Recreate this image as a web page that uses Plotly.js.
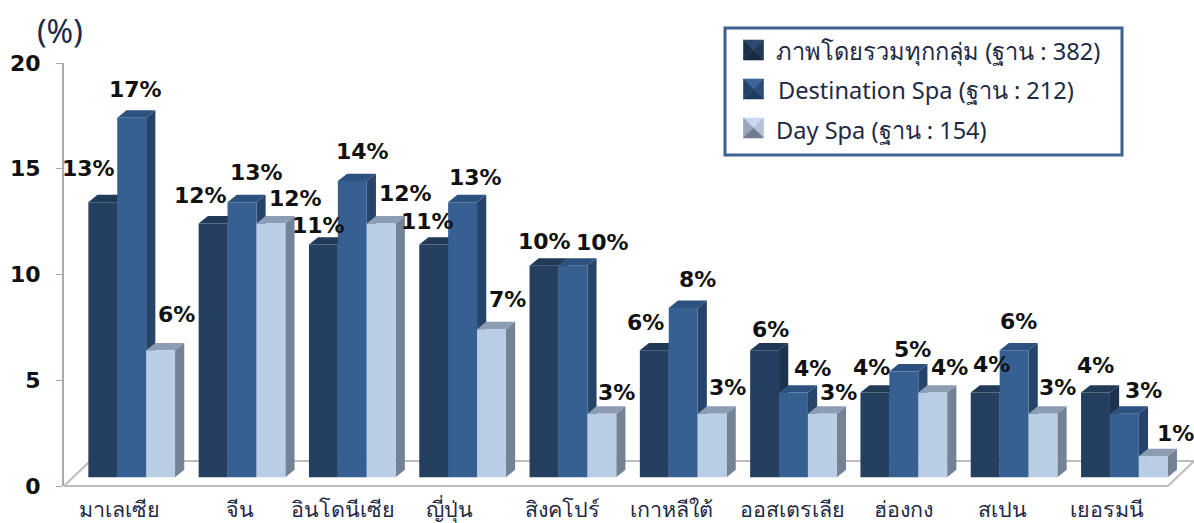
<!DOCTYPE html>
<html><head><meta charset="utf-8">
<script src="https://cdn.plot.ly/plotly-3.0.1.min.js"></script>
<style>html,body{margin:0;padding:0;background:#fff}#c{width:1194px;height:523px}</style>
</head><body><div id="c"></div>
<script>
const categories = ['มาเลเซีย','จีน','อินโดนีเซีย','ญี่ปุ่น','สิงคโปร์','เกาหลีใต้','ออสเตรเลีย','ฮ่องกง','สเปน','เยอรมนี'];
const seriesNames = ['ภาพโดยรวมทุกกลุ่ม (ฐาน : 382)','Destination Spa (ฐาน : 212)','Day Spa (ฐาน : 154)'];
const overall     = [13,12,11,11,10,6,6,4,4,4];
const destination = [17,13,14,13,10,8,4,5,6,3];
const daySpa      = [6,12,12,7,3,3,3,4,3,1];
const yTicks = [0,5,10,15,20];

// ---- styling and placement ----
const series = [overall,destination,daySpa];
const W=1194,H=523,mL=64,mR=0,mT=63,mB=36.5;
const plotW=W-mL-mR, plotH=H-mT-mB;
const period=110.3, center0=131.7;           // px between groups, px of first group centre
const xRange=[(mL-center0)/period,(W-mR-center0)/period];
const pxPerUnit=plotH/20, baseGap=8.8;       // bars stand on the floor, above the axis zero
const y1Range=[-baseGap/pxPerUnit,20-baseGap/pxPerUnit];
const gap=0.214, barW=(1-gap)/3;
const depthX=9.2/period, depthY=7.4/pxPerUnit;
const faceCol=['#243F60','#366092','#B9CDE5'];
const sideCol=['#1C324D','#264469','#748296'];
const topCol =['#203A58','#2E5280','#8C9CB2'];
const font='"Noto Sans","DejaVu Sans",sans-serif';
const boldFont='"DejaVu Sans",sans-serif';
const textCol='#111';

const labelDx=[[-14,4,16],[-13,14,25],[-5,10,24],[-6,13,16],[0,30,15],[-9,14,15],[6,19,16],[-3,9,17],[6,4,14],[0,19,22]];
const labelDy=[[34,28,36],[28,30,25],[19,30,30],[23,25,30],[24,23,21],[28,29,26],[21,24,21],[25,22,25],[28,29,26],[27,23,23]];
const catShift=[-12,-2,-9,-13,-10,-12,-1,0,-12,-17];

const px=x=>(x-mL)/plotW, py=y=>1-(y-mT)/plotH;   // page px -> paper fractions
const shapes=[];
const poly=(pts,xref,yref,fill,layer,seam)=>shapes.push({type:'path',xref,yref,layer,fillcolor:fill,
  line:seam?{color:fill,width:0.6}:{width:0},
  path:'M'+pts.map(p=>p[0]+','+p[1]).join('L')+'Z'});

// floor
const lineCol='#BDBDBD';
[[[64,486.5],[1168,486.5],[1194,461.5]],[[64,486.5],[90,461.5],[1194,461.5]]].forEach(l=>{
  shapes.push({type:'path',xref:'paper',yref:'paper',layer:'below',line:{color:lineCol,width:2},
    path:'M'+l.map(p=>px(p[0])+','+py(p[1])).join('L')});
});
// sides and tops of the bars, computed from the values; the fronts are bar traces above them
series.forEach((vals,s)=>vals.forEach((v,i)=>{
  const l=i+(s-1.5)*barW, r=l+barW;
  poly([[r,0],[r+depthX,depthY],[r+depthX,v+depthY],[r,v]],'x','y',sideCol[s],'below');
  poly([[l,v],[l+depthX,v+depthY],[r+depthX,v+depthY],[r,v]],'x','y',topCol[s],'below');
}));
// legend frame and swatches
shapes.push({type:'rect',xref:'paper',yref:'paper',layer:'above',x0:px(725),x1:px(1122),y0:py(28),y1:py(155),
  fillcolor:'#fff',line:{color:'#3D6193',width:3}});
const swTop=[40,79,118], swCols=[
 ['#2B4A70','#1B314C','#1F3856','#17293F'],
 ['#3B6699','#24426A','#2B4D78','#1F3A5E'],
 ['#C9DAF0','#97A6BA','#B4C2D4','#6E7C8E']];
const legendAnn=[];
seriesNames.forEach((n,s)=>{
  const x0=743.5,x1=763.5,y0=swTop[s],y1=y0+20,ctr=[753.5,y0+10];
  [[[x0,y0],[x1,y0]],[[x0,y0],[x0,y1]],[[x1,y0],[x1,y1]],[[x0,y1],[x1,y1]]].forEach((e,k)=>{
    poly([e[0],e[1],ctr].map(p=>[px(p[0]),py(p[1])]),'paper','paper',swCols[s][k],'above',true);
  });
  legendAnn.push({xref:'paper',yref:'paper',x:px([774,776,774][s]),y:py([51,90,130][s]),xanchor:'left',yanchor:'middle',
    showarrow:false,text:n,font:{family:font,size:23.6,color:'#1F2A44'}});
});

const traces=series.map((vals,s)=>({type:'bar',name:seriesNames[s],x:categories.map((c,i)=>i),y:vals,
  marker:{color:faceCol[s],line:{width:0}},hoverinfo:'name+y',showlegend:false}));
// carries the visible value axis, whose zero sits on the front edge of the floor
traces.push({type:'scatter',mode:'none',x:yTicks.map(()=>0),y:yTicks,yaxis:'y2',showlegend:false,hoverinfo:'skip'});

const valueLabels=[];
series.forEach((vals,s)=>vals.forEach((v,i)=>{
  valueLabels.push({xref:'x',yref:'y',x:i+(s-1)*barW,y:v,xshift:labelDx[i][s],yshift:labelDy[i][s],
    xanchor:'center',yanchor:'middle',showarrow:false,text:v+'%',
    font:{family:boldFont,size:22,color:textCol,weight:700}});
}));

Plotly.newPlot('c',traces,{
  width:W,height:H,margin:{l:mL,r:mR,t:mT,b:mB,pad:0},
  paper_bgcolor:'#fff',plot_bgcolor:'rgba(0,0,0,0)',
  barmode:'group',bargap:gap,bargroupgap:0,
  xaxis:{type:'linear',range:xRange,showgrid:false,zeroline:false,showline:false,ticks:'',
    tickmode:'array',tickvals:categories.map((c,i)=>i+catShift[i]/period),ticktext:categories,tickangle:0,
    tickfont:{family:font,size:21.5,color:'#1F2A44'},ticklabelstandoff:8},
  yaxis:{range:y1Range,visible:false,fixedrange:true},
  yaxis2:{range:[0,20],overlaying:'y',side:'left',anchor:'x',showgrid:false,zeroline:false,
    showline:true,linecolor:'#ABABAB',linewidth:2,ticks:'outside',ticklen:6,tickcolor:'#A6A6A6',
    tickmode:'array',tickvals:yTicks,ticktext:yTicks.map(String),ticklabelstandoff:11,
    tickfont:{family:boldFont,size:22,color:textCol,weight:700}},
  shapes,
  annotations:[...valueLabels,...legendAnn,
    {xref:'paper',yref:'paper',x:px(59.5),y:py(30),xanchor:'center',yanchor:'middle',showarrow:false,text:'(%)',
     font:{family:font,size:32,color:'#1F2A44'}}]
},{displayModeBar:false,staticPlot:true});
</script></body></html>
